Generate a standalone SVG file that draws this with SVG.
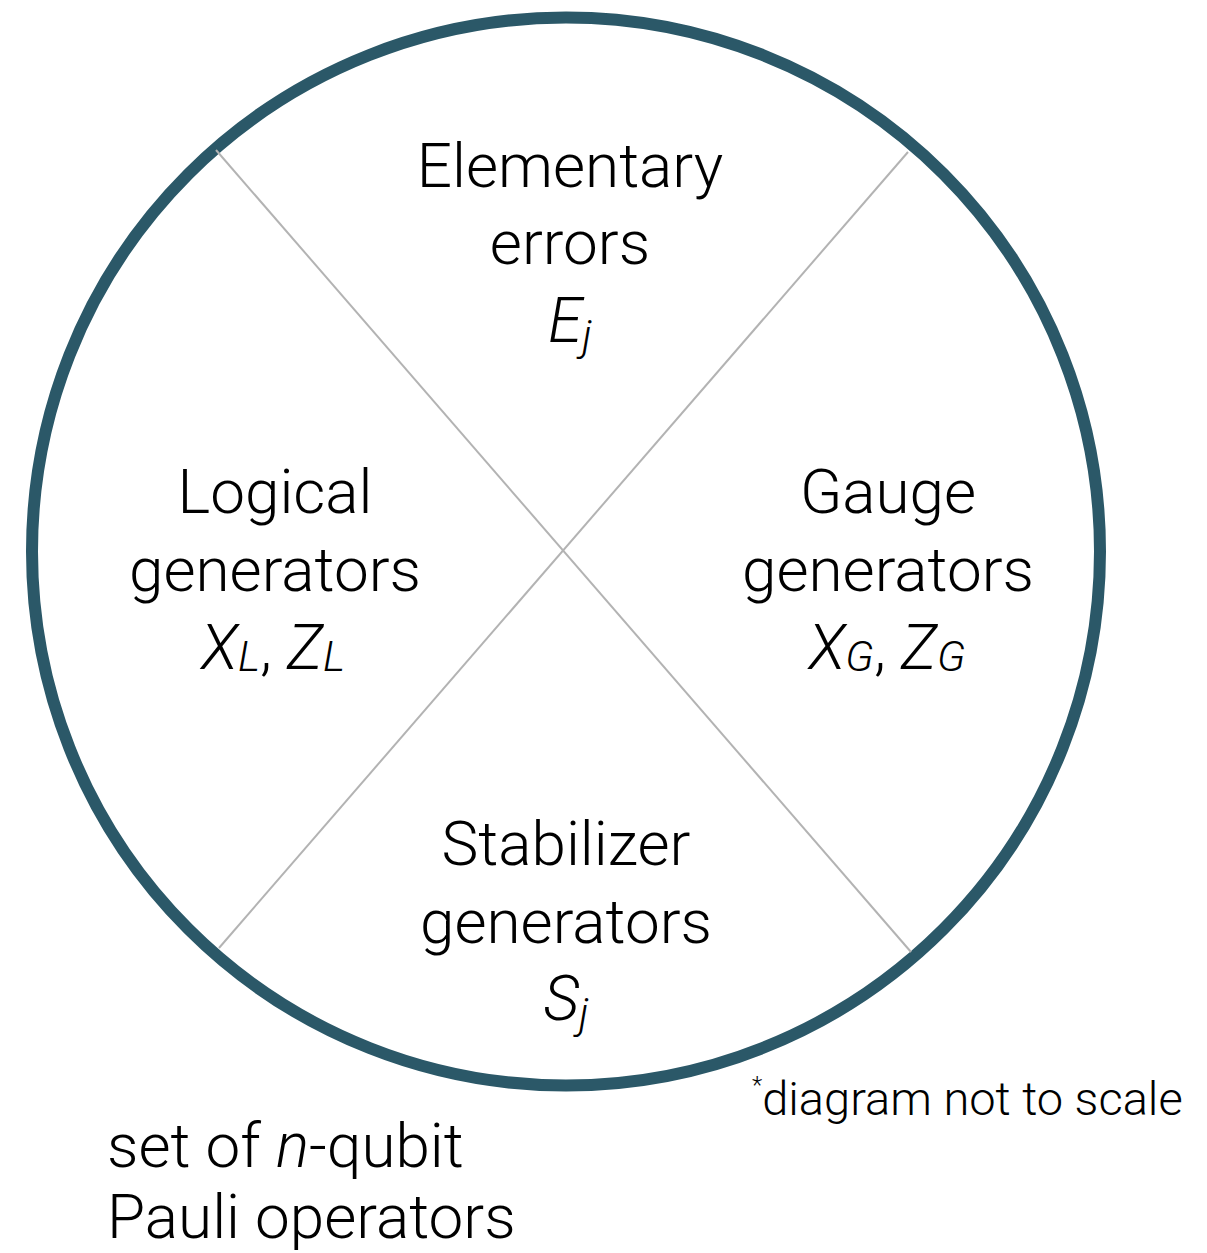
<svg xmlns="http://www.w3.org/2000/svg" width="1207" height="1253" viewBox="0 0 1207 1253">
  <style>
    .t { font-family: Roboto, "Liberation Sans", sans-serif; font-weight: 300; font-size: 62px; fill: #000; text-anchor: middle; }
    .it { font-style: italic; }
    .sub { font-size: 43px; font-style: italic; }
    .note { font-family: Roboto, "Liberation Sans", sans-serif; font-weight: 300; font-size: 47px; fill: #000; }
    .divider { stroke: #b3b3b3; stroke-width: 2; fill: none; }
  </style>
  <rect width="1207" height="1253" fill="#fff"/>

  <!-- outer set boundary -->
  <g id="pauli-set">
    <circle cx="566" cy="551.5" r="534" fill="none" stroke="#2b5868" stroke-width="12"/>
  </g>

  <!-- dividing lines between the four regions -->
  <g id="dividers">
    <line class="divider" x1="216" y1="150" x2="911" y2="952"/>
    <line class="divider" x1="908" y1="152" x2="219" y2="948"/>
  </g>

  <g id="elementary-errors">
    <text class="t" x="570" y="187">Elementary</text>
    <text class="t" x="570" y="264">errors</text>
    <text class="t" x="570" y="342"><tspan class="it">E</tspan><tspan class="sub" dy="8">j</tspan></text>
  </g>

  <g id="logical-generators">
    <text class="t" x="275" y="513">Logical</text>
    <text class="t" x="275" y="591">generators</text>
    <text class="t" x="273" y="669"><tspan class="it">X</tspan><tspan class="sub" dy="2">L</tspan><tspan dy="-2">, </tspan><tspan class="it">Z</tspan><tspan class="sub" dy="2">L</tspan></text>
  </g>

  <g id="gauge-generators">
    <text class="t" x="888" y="513">Gauge</text>
    <text class="t" x="888" y="591">generators</text>
    <text class="t" x="887" y="669"><tspan class="it">X</tspan><tspan class="sub" dy="2">G</tspan><tspan dy="-2">, </tspan><tspan class="it">Z</tspan><tspan class="sub" dy="2">G</tspan></text>
  </g>

  <g id="stabilizer-generators">
    <text class="t" x="566" y="865">Stabilizer</text>
    <text class="t" x="566" y="943">generators</text>
    <text class="t" x="566" y="1020"><tspan class="it">S</tspan><tspan class="sub" dy="8">j</tspan></text>
  </g>

  <g id="set-label">
    <text class="t" x="107" y="1167" style="text-anchor:start">set of <tspan class="it">n</tspan>-qubit</text>
    <text class="t" x="107" y="1238" style="text-anchor:start">Pauli operators</text>
  </g>

  <g id="scale-note">
    <text class="note" x="752" y="1115"><tspan font-size="24" dy="-22">*</tspan><tspan dy="22">diagram not to scale</tspan></text>
  </g>
</svg>
